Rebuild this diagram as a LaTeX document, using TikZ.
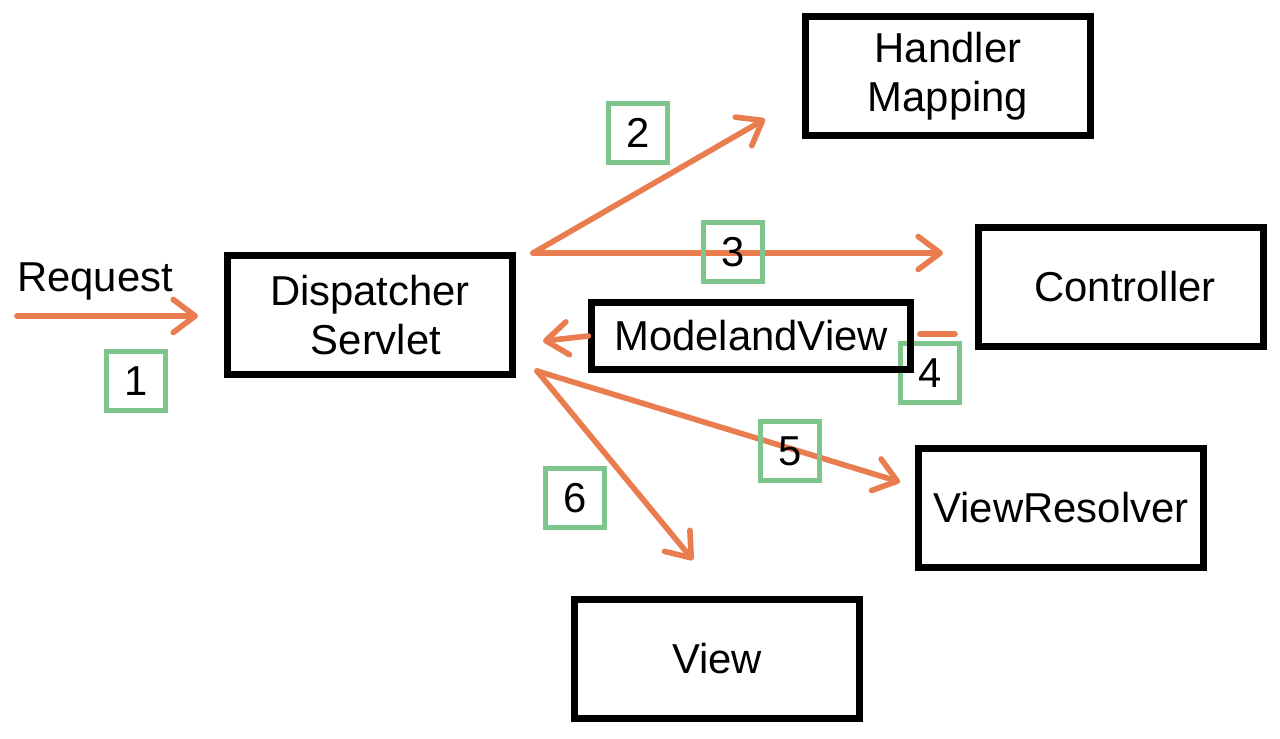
\documentclass[tikz,border=0pt]{standalone}
\usepackage{fontspec}
\setmainfont{Liberation Sans}
\usetikzlibrary{arrows.meta}
\definecolor{pfeil}{RGB}{233,125,80}
\definecolor{schritt}{RGB}{126,196,141}

\tikzset{
  kasten/.style={draw=black, line width=1.8pt, minimum width=2.85cm,
    minimum height=1.19cm, align=center, inner sep=0pt,
    font=\fontsize{11.9}{13.9}\selectfont},
  nummer/.style={draw=schritt, line width=1.4pt, minimum size=0.59cm,
    inner sep=0pt, font=\fontsize{11.9}{13.9}\selectfont},
  fluss/.style={draw=pfeil, line width=1.6pt, line cap=round,
    -{Straight Barb[length=2.2mm,width=3.3mm,round]}}
}

\begin{document}
\begin{tikzpicture}[x=0.1mm, y=-0.1mm]
        \useasboundingbox (0,0) rectangle (1280,738);

        % Anfang und Ende der Pfeile
        \coordinate (req start) at (17,316);
        \coordinate (req end) at (198,316);
        \coordinate (ds oben) at (533,253);
        \coordinate (hm end) at (765,119);
        \coordinate (ctrl end) at (943,253);
        \coordinate (mv end) at (543,341);
        \coordinate (ctrl ab) at (920,334);
        \coordinate (ctrl ab end) at (955,334);
        \coordinate (ds unten) at (537,371);
        \coordinate (vr end) at (900,482);
        \coordinate (view end) at (693,560);

        % Pfeile
        \node[font=\fontsize{11.9}{13.9}\selectfont] (request) at (95,281) {Request};
        \draw[fluss] (req start) -- (req end);
        \draw[fluss] (ds oben) -- (hm end);
        \draw[fluss] (ds oben) -- (ctrl end);
        \draw[draw=pfeil, line width=1.6pt, line cap=round] (ctrl ab) -- (ctrl ab end);
        \draw[fluss] (ds unten) -- (vr end);
        \draw[fluss] (ds unten) -- (view end);

        % Schritte
        \node[nummer] (n1) at (136,381) {1};
        \node[nummer] (n2) at (638,133) {2};
        \node[nummer] (n3) at (733,252) {3};
        \node[nummer] (n4) at (930,373) {4};
        \node[nummer] (n5) at (790,451) {5};
        \node[nummer] (n6) at (575,498) {6};

        % Kaesten
        \node[kasten] (ds) at (370,315) {Dispatcher\\\hspace{1.2mm}Servlet};
        \node[kasten] (hm) at (948,76) {Handler\\Mapping};
        \node[kasten] (ctrl) at (1121,287) {\hspace{0.8mm}Controller};
        \node[kasten, minimum width=3.19cm, minimum height=0.67cm] (mv) at (751,336) {ModelandView};
        \node[kasten] (vr) at (1061,508) {ViewResolver};
        \node[kasten] (view) at (717,659) {View};

        % ModelandView zurueck
        \draw[fluss] (mv.west) -- (mv end);
\end{tikzpicture}
\end{document}
